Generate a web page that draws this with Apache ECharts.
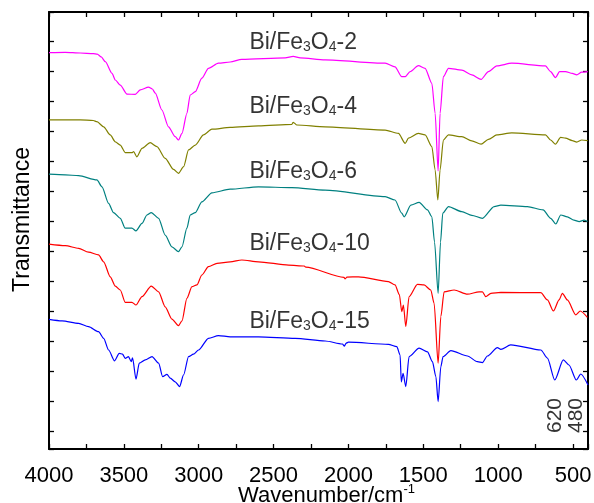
<!DOCTYPE html>
<html lang="en" style="height: 100%">
<head>
  <meta charset="UTF-8">
</head>
<body style="height: 100%; margin: 0">
  <div id="container" style="width: 594px; height: 503px"></div>
  <script type="text/javascript" src="https://fastly.jsdelivr.net/npm/echarts@6/dist/echarts.min.js"></script>
  <script type="text/javascript">
    // spectra: [wavenumber, transmittance (a.u., offset)]
    var names = ['Bi/Fe3O4-2', 'Bi/Fe3O4-4', 'Bi/Fe3O4-6', 'Bi/Fe3O4-10', 'Bi/Fe3O4-15'];
    var suffix = ['2', '4', '6', '10', '15'];
    var colors = ['#ff00ff', '#808000', '#008080', '#ff0000', '#0000ff'];

    var spec2 = [[4000,126.1],[3891,126.2],[3791,126.0],[3704,125.8],[3678,125.6],[3651,124.7],[3624,123.1],[3579,119.2],[3557,117.0],[3524,115.3],[3479,112.3],[3424,112.2],[3390,113.7],[3335,114.6],[3310,114.0],[3290,112.6],[3246,107.0],[3202,101.4],[3157,98.1],[3135,97.0],[3112,99.2],[3079,105.9],[3057,112.0],[3023,113.1],[2979,117.6],[2935,120.9],[2868,122.6],[2790,123.0],[2712,123.9],[2422,124.4],[2369,124.9],[2322,124.4],[2156,123.7],[1755,122.6],[1689,121.4],[1644,118.1],[1621,118.1],[1588,119.8],[1533,121.8],[1488,120.9],[1443,115.9],[1421,105.9],[1401,86.7],[1388,105.9],[1366,118.1],[1332,120.9],[1243,120.3],[1176,118.7],[1114,117.2],[1065,119.8],[1009,121.7],[909,122.6],[684,121.7],[650,119.8],[617,117.8],[590,119.8],[550,119.8],[505,119.2],[475,118.7],[442,119.6],[402,119.8]];
    var spec4 = [[4000,103.7],[3891,103.7],[3791,103.7],[3704,103.5],[3680,103.1],[3635,101.4],[3591,98.7],[3557,96.4],[3524,95.3],[3491,92.8],[3446,92.8],[3435,93.1],[3413,91.4],[3379,94.2],[3324,96.1],[3279,94.8],[3224,90.9],[3168,87.2],[3135,85.9],[3101,88.1],[3068,93.7],[3023,95.3],[2968,98.7],[2912,100.6],[2790,101.2],[2601,101.7],[2378,102.2],[2369,102.9],[2344,102.0],[2156,101.4],[1755,100.3],[1666,99.2],[1621,95.9],[1599,97.6],[1533,99.2],[1488,98.7],[1443,94.8],[1421,87.0],[1403,77.0],[1388,87.0],[1366,97.0],[1332,98.7],[1243,98.1],[1176,96.7],[1114,95.6],[1065,97.2],[1009,98.7],[909,99.4],[684,98.7],[650,97.0],[617,95.6],[583,97.9],[550,97.6],[505,96.8],[475,96.3],[442,97.0],[402,96.8]];
    var spec6 = [[4000,85.6],[3891,85.4],[3802,85.1],[3680,83.7],[3646,81.4],[3602,75.9],[3569,72.8],[3524,70.9],[3491,67.6],[3446,67.6],[3419,66.7],[3379,69.2],[3346,72.0],[3317,72.8],[3268,70.9],[3224,65.3],[3179,61.4],[3135,59.8],[3112,61.4],[3079,67.6],[3057,72.0],[3023,72.8],[2979,76.4],[2912,79.4],[2790,80.6],[2601,81.4],[2378,81.1],[2156,80.3],[1755,78.1],[1689,77.0],[1644,72.6],[1628,71.4],[1583,75.3],[1528,76.2],[1472,73.7],[1443,71.4],[1425,63.0],[1401,45.9],[1385,63.0],[1370,72.6],[1332,74.8],[1243,73.1],[1176,71.9],[1105,70.9],[1027,74.8],[982,75.3],[805,74.8],[700,73.7],[649,70.9],[615,69.0],[582,72.0],[538,71.4],[494,70.3],[459,69.8],[426,70.3],[403,69.8]];
    var spec10 = [[4000,62.3],[3891,61.8],[3802,60.9],[3736,59.6],[3669,58.7],[3635,56.4],[3591,51.4],[3557,48.3],[3524,47.0],[3491,42.9],[3446,42.9],[3419,42.0],[3379,44.8],[3317,48.3],[3268,46.4],[3224,41.4],[3179,37.3],[3135,35.1],[3112,36.7],[3079,44.2],[3045,48.1],[3012,48.7],[2979,52.0],[2935,54.8],[2878,55.9],[2790,56.4],[2712,57.0],[2601,56.4],[2400,55.3],[2295,55.0],[2285,54.6],[2030,51.2],[2022,50.7],[2010,51.3],[1933,51.4],[1733,49.8],[1689,48.7],[1660,45.5],[1644,39.8],[1633,42.0],[1617,34.8],[1595,44.8],[1539,48.9],[1495,48.7],[1450,47.0],[1428,42.6],[1401,22.6],[1383,38.1],[1361,46.4],[1294,47.0],[1205,45.6],[1127,46.4],[1105,46.4],[1083,44.8],[1049,45.9],[982,46.2],[715,46.1],[671,43.7],[631,40.0],[593,43.7],[571,45.9],[538,43.7],[481,38.7],[452,40.0],[404,37.9]];
    var spec15 = [[4000,37.2],[3913,36.7],[3802,35.9],[3736,34.8],[3669,33.1],[3635,30.9],[3602,27.0],[3562,23.4],[3531,25.9],[3509,25.6],[3491,24.2],[3469,24.8],[3451,23.1],[3442,24.4],[3419,17.3],[3397,22.6],[3357,23.7],[3312,24.8],[3268,22.6],[3241,18.1],[3212,18.9],[3190,17.6],[3157,16.4],[3128,14.8],[3101,18.7],[3068,24.8],[3035,25.6],[3001,27.0],[2935,30.9],[2868,31.8],[2790,31.4],[2601,31.4],[2356,30.9],[2156,30.0],[2040,29.0],[2027,28.3],[2015,29.3],[2000,29.6],[1733,28.9],[1677,28.1],[1655,25.3],[1647,16.4],[1635,19.2],[1617,14.8],[1595,24.8],[1528,27.6],[1472,26.4],[1439,23.1],[1416,18.1],[1401,9.8],[1383,21.4],[1368,24.8],[1316,26.8],[1205,25.0],[1139,23.1],[1105,22.8],[1072,25.0],[1005,27.8],[982,27.2],[916,28.7],[715,27.0],[671,24.3],[622,17.0],[565,23.7],[527,22.0],[478,17.0],[448,19.0],[400,15.3]];
    var spectra = [spec2, spec4, spec6, spec10, spec15];

    // where the sample names sit
    var labelWave = 2662;
    var labelLevel = [129.9, 108.7, 86.8, 63.1, 37.0];
    // marked bands
    var bands = [620, 480];
    var bandLevel = 6.5;

    var FONT = 'Liberation Sans';
    var dom = document.getElementById('container');
    var myChart = echarts.init(dom, null, { renderer: 'canvas' });

    var series = spectra.map(function (d, i) {
      return {
        name: names[i],
        type: 'line',
        xAxisIndex: 0,
        yAxisIndex: 0,
        data: d,
        showSymbol: false,
        smooth: 0.25,
        smoothMonotone: 'x',
        lineStyle: { color: colors[i], width: 1.2 },
        itemStyle: { color: colors[i] },
        z: 3
      };
    });

    series.push({
      type: 'scatter',
      xAxisIndex: 0,
      yAxisIndex: 0,
      symbolSize: 0.1,
      itemStyle: { color: 'transparent' },
      silent: true,
      data: labelLevel.map(function (v, i) { return [labelWave, v, suffix[i]]; }),
      label: {
        show: true,
        position: 'right',
        distance: 0,
        formatter: function (p) {
          return '{a|Bi/Fe}{s|3}{a|O}{s|4}{a|-' + p.value[2] + '}';
        },
        rich: {
          a: { fontFamily: FONT, fontSize: 23, color: '#000', lineHeight: 26, verticalAlign: 'bottom' },
          s: { fontFamily: FONT, fontSize: 14, color: '#000', lineHeight: 19, verticalAlign: 'bottom' }
        }
      }
    });

    series.push({
      type: 'scatter',
      xAxisIndex: 0,
      yAxisIndex: 0,
      symbolSize: 0.1,
      itemStyle: { color: 'transparent' },
      silent: true,
      data: bands.map(function (b) { return [b, bandLevel, String(b)]; }),
      label: {
        show: true,
        position: 'inside',
        rotate: 90,
        offset: [-4, 0],
        fontFamily: FONT,
        fontSize: 21,
        color: '#000',
        formatter: function (p) { return p.value[2]; }
      }
    });

    var tickStyle = { show: true, inside: true, length: 5, lineStyle: { color: '#000', width: 1.3 } };
    var lineStyle = { show: true, onZero: false, lineStyle: { color: '#000', width: 2 } };

    option = {
      backgroundColor: '#fff',
      animation: false,
      grid: { left: 49, right: 6, top: 12, bottom: 54, containLabel: false, outerBoundsMode: 'none' },
      xAxis: [
        {
          type: 'value', position: 'bottom', min: 400, max: 4000, inverse: true,
          axisLine: lineStyle, axisTick: { show: false }, axisLabel: { show: false }, splitLine: { show: false }
        },
        {
          type: 'value', position: 'bottom', min: 0, max: 3600, interval: 250,
          axisLine: { show: false, onZero: false }, axisTick: tickStyle, splitLine: { show: false },
          axisLabel: {
            fontFamily: FONT, fontSize: 22, color: '#000', margin: 16,
            formatter: function (v) { return v % 500 === 0 ? String(4000 - v) : ''; }
          },
          name: '{a|Wavenumber/cm}{b|-1}',
          nameLocation: 'middle',
          nameGap: 34,
          nameMoveOverlap: false,
          nameTextStyle: {
            padding: [0, 0, 0, 16],
            rich: {
              a: { fontFamily: FONT, fontSize: 22, color: '#000', lineHeight: 24, verticalAlign: 'bottom' },
              b: { fontFamily: FONT, fontSize: 13, color: '#000', lineHeight: 24, verticalAlign: 'top' }
            }
          }
        },
        {
          type: 'value', position: 'top', min: 0, max: 3600, interval: 250,
          axisLine: lineStyle, axisTick: tickStyle, axisLabel: { show: false }, splitLine: { show: false }
        }
      ],
      yAxis: [
        {
          type: 'value', position: 'left', min: -6, max: 139.67, splitNumber: 14,
          axisLine: lineStyle, axisTick: tickStyle, axisLabel: { show: false }, splitLine: { show: false },
          name: 'Transmittance', nameLocation: 'middle', nameGap: 15, nameRotate: 90,
          nameMoveOverlap: false,
          nameTextStyle: { fontFamily: FONT, fontSize: 23, color: '#000', padding: [0, 0, 0, 22] }
        },
        {
          type: 'value', position: 'right', min: -6, max: 139.67, splitNumber: 14,
          axisLine: lineStyle, axisTick: tickStyle, axisLabel: { show: false }, splitLine: { show: false }
        }
      ],
      series: series
    };

    if (option && typeof option === 'object') {
      myChart.setOption(option);
    }

    window.addEventListener('resize', myChart.resize);
  </script>
</body>
</html>
